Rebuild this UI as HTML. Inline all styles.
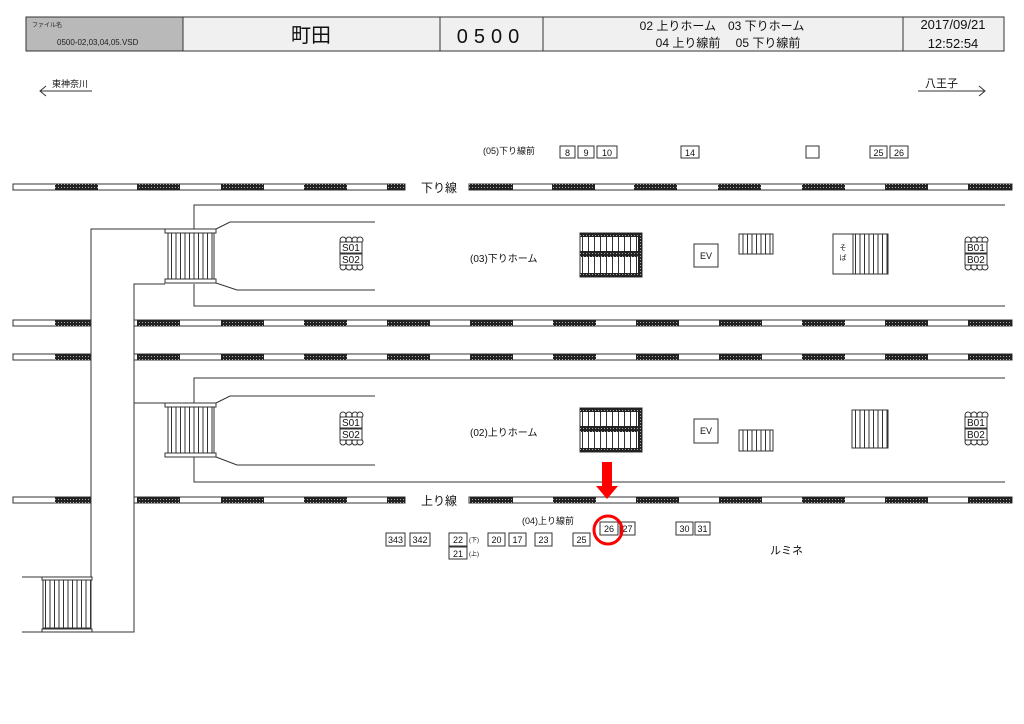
<!DOCTYPE html>
<html><head><meta charset="utf-8"><style>
html,body{margin:0;padding:0;background:#fff;}
svg{display:block;font-family:"Liberation Sans","Noto Sans CJK JP",sans-serif;}
</style></head><body>
<svg width="1024" height="724" viewBox="0 0 1024 724" xmlns="http://www.w3.org/2000/svg">
<defs>
<pattern id="dk" width="3" height="3" patternUnits="userSpaceOnUse"><rect width="3" height="3" fill="#222"/><rect x="1" y="1" width="1" height="1" fill="#aaa"/></pattern>
<pattern id="vl" width="6" height="10" patternUnits="userSpaceOnUse"><rect width="6" height="10" fill="#fff"/><rect x="0" width="1" height="10" fill="#333"/></pattern>
<pattern id="vl4" width="4.5" height="10" patternUnits="userSpaceOnUse"><rect width="4.5" height="10" fill="#fff"/><rect x="0" width="1" height="10" fill="#333"/></pattern>
</defs>

<!-- header -->
<rect x="26" y="17" width="157" height="34" fill="#b9b9b9" stroke="#333"/>
<rect x="183" y="17" width="821" height="34" fill="#f0f0f0" stroke="#333"/>
<line x1="440" y1="17" x2="440" y2="51" stroke="#333"/>
<line x1="543" y1="17" x2="543" y2="51" stroke="#333"/>
<line x1="903" y1="17" x2="903" y2="51" stroke="#333"/>
<text x="32" y="27" font-size="6" fill="#222">ファイル名</text>
<text x="57" y="45" font-size="8" fill="#222">0500-02,03,04,05.VSD</text>
<text x="311" y="42" font-size="20" text-anchor="middle" fill="#111">町田</text>
<text x="491" y="43" font-size="20" text-anchor="middle" letter-spacing="6" fill="#111">0500</text>
<text x="722" y="30" font-size="12" text-anchor="middle" fill="#111">02 上りホーム　03 下りホーム</text>
<text x="728" y="47" font-size="12" text-anchor="middle" fill="#111">04 上り線前　 05 下り線前</text>
<text x="953" y="29" font-size="13" text-anchor="middle" fill="#111">2017/09/21</text>
<text x="953" y="48" font-size="13" text-anchor="middle" fill="#111">12:52:54</text>

<!-- direction arrows -->
<text x="52" y="87" font-size="9" fill="#111">東神奈川</text>
<line x1="40" y1="91" x2="92" y2="91" stroke="#333"/>
<polyline points="46,86 40,91 46,96" fill="none" stroke="#333"/>
<text x="925" y="87" font-size="11" fill="#111">八王子</text>
<line x1="918" y1="91" x2="985" y2="91" stroke="#333"/>
<polyline points="979,86 985,91 979,96" fill="none" stroke="#333"/>

<!-- tracks -->
<g stroke="#333" stroke-width="1">
<rect x="13" y="184" width="392" height="6" fill="#fff"/>
<rect x="469" y="184" width="543" height="6" fill="#fff"/>
<rect x="13" y="320" width="78" height="6" fill="#fff"/>
<rect x="134" y="320" width="878" height="6" fill="#fff"/>
<rect x="13" y="354" width="78" height="6" fill="#fff"/>
<rect x="134" y="354" width="878" height="6" fill="#fff"/>
<rect x="13" y="497" width="78" height="6" fill="#fff"/>
<rect x="134" y="497" width="271" height="6" fill="#fff"/>
<rect x="469" y="497" width="543" height="6" fill="#fff"/>
</g>
<g fill="url(#dk)">
<rect x="55" y="184" width="43" height="6"/><rect x="137" y="184" width="43" height="6"/><rect x="221" y="184" width="43" height="6"/><rect x="304" y="184" width="43" height="6"/><rect x="387" y="184" width="18" height="6"/>
<rect x="469" y="184" width="44" height="6"/><rect x="552" y="184" width="43" height="6"/><rect x="634" y="184" width="43" height="6"/><rect x="718" y="184" width="43" height="6"/><rect x="802" y="184" width="43" height="6"/><rect x="885" y="184" width="43" height="6"/><rect x="968" y="184" width="44" height="6"/>
<g id="trk">
<rect x="55" y="320" width="36" height="6"/><rect x="137" y="320" width="43" height="6"/><rect x="221" y="320" width="43" height="6"/><rect x="304" y="320" width="43" height="6"/><rect x="387" y="320" width="43" height="6"/><rect x="470" y="320" width="43" height="6"/><rect x="553" y="320" width="43" height="6"/><rect x="636" y="320" width="43" height="6"/><rect x="719" y="320" width="43" height="6"/><rect x="802" y="320" width="43" height="6"/><rect x="885" y="320" width="43" height="6"/><rect x="968" y="320" width="44" height="6"/>
</g>
<use href="#trk" y="34"/>
<rect x="55" y="497" width="36" height="6"/><rect x="137" y="497" width="43" height="6"/><rect x="221" y="497" width="43" height="6"/><rect x="304" y="497" width="43" height="6"/><rect x="387" y="497" width="18" height="6"/>
<rect x="470" y="497" width="43" height="6"/><rect x="553" y="497" width="43" height="6"/><rect x="636" y="497" width="43" height="6"/><rect x="719" y="497" width="43" height="6"/><rect x="802" y="497" width="43" height="6"/><rect x="885" y="497" width="43" height="6"/><rect x="968" y="497" width="44" height="6"/>
</g>
<text x="421" y="192" font-size="12" fill="#111">下り線</text>
<text x="421" y="505" font-size="12" fill="#111">上り線</text>

<!-- corridor / platform outlines -->
<g fill="none" stroke="#333" stroke-width="1">
<polyline points="165,229 91,229 91,632"/>
<polyline points="165,284 134,284 134,632 92,632"/>
<line x1="134" y1="403" x2="165" y2="403"/>
<polyline points="194,229 194,205 1005,205"/>
<polyline points="194,284 194,306 1005,306"/>
<polyline points="216,229 230,222 375,222"/>
<polyline points="216,283 237,290 375,290"/>
<polyline points="194,403 194,378 1005,378"/>
<polyline points="194,457 194,482 1005,482"/>
<polyline points="216,403 230,396 375,396"/>
<polyline points="216,457 237,465 375,465"/>
<line x1="22" y1="577" x2="42" y2="577"/>
<line x1="22" y1="632" x2="42" y2="632"/>
</g>
<!-- stairs -->
<g stroke="#333" stroke-width="1">
<rect x="168" y="232" width="46" height="48" fill="url(#vl4)"/>
<rect x="165" y="229" width="51" height="4" fill="#fff"/><rect x="165" y="279" width="51" height="4" fill="#fff"/>
<rect x="168" y="406" width="46" height="48" fill="url(#vl4)"/>
<rect x="165" y="403" width="51" height="4" fill="#fff"/><rect x="165" y="453" width="51" height="4" fill="#fff"/>
<rect x="43" y="580" width="48" height="48" fill="url(#vl4)"/>
<rect x="42" y="577" width="50" height="3" fill="#fff"/><rect x="42" y="629" width="50" height="3" fill="#fff"/>
</g>

<!-- S / B blocks -->
<g transform="translate(0,0)" stroke="#333" fill="#fff">
<circle cx="343" cy="240" r="3"/><circle cx="349" cy="240" r="3"/><circle cx="355" cy="240" r="3"/><circle cx="360" cy="240" r="3"/>
<circle cx="343" cy="267" r="3"/><circle cx="349" cy="267" r="3"/><circle cx="355" cy="267" r="3"/><circle cx="360" cy="267" r="3"/>
<rect x="340" y="242" width="22" height="11"/><rect x="340" y="254" width="22" height="11"/>
</g>
<g transform="translate(0,175)" stroke="#333" fill="#fff">
<circle cx="343" cy="240" r="3"/><circle cx="349" cy="240" r="3"/><circle cx="355" cy="240" r="3"/><circle cx="360" cy="240" r="3"/>
<circle cx="343" cy="267" r="3"/><circle cx="349" cy="267" r="3"/><circle cx="355" cy="267" r="3"/><circle cx="360" cy="267" r="3"/>
<rect x="340" y="242" width="22" height="11"/><rect x="340" y="254" width="22" height="11"/>
</g>
<g transform="translate(625,0)" stroke="#333" fill="#fff">
<circle cx="343" cy="240" r="3"/><circle cx="349" cy="240" r="3"/><circle cx="355" cy="240" r="3"/><circle cx="360" cy="240" r="3"/>
<circle cx="343" cy="267" r="3"/><circle cx="349" cy="267" r="3"/><circle cx="355" cy="267" r="3"/><circle cx="360" cy="267" r="3"/>
<rect x="340" y="242" width="22" height="11"/><rect x="340" y="254" width="22" height="11"/>
</g>
<g transform="translate(625,175)" stroke="#333" fill="#fff">
<circle cx="343" cy="240" r="3"/><circle cx="349" cy="240" r="3"/><circle cx="355" cy="240" r="3"/><circle cx="360" cy="240" r="3"/>
<circle cx="343" cy="267" r="3"/><circle cx="349" cy="267" r="3"/><circle cx="355" cy="267" r="3"/><circle cx="360" cy="267" r="3"/>
<rect x="340" y="242" width="22" height="11"/><rect x="340" y="254" width="22" height="11"/>
</g>
<g font-size="10" fill="#111">
<text x="342" y="251">S01</text><text x="342" y="263">S02</text>
<text x="342" y="426">S01</text><text x="342" y="438">S02</text>
<text x="967" y="251">B01</text><text x="967" y="263">B02</text>
<text x="967" y="426">B01</text><text x="967" y="438">B02</text>
</g>

<text x="470" y="262" font-size="10" fill="#111">(03)下りホーム</text>
<text x="470" y="436" font-size="10" fill="#111">(02)上りホーム</text>

<!-- escalators dark -->
<g id="esc">
<rect x="580" y="233" width="62" height="44" fill="url(#vl)" stroke="#333"/>
<rect x="580" y="233" width="62" height="4" fill="url(#dk)"/>
<rect x="580" y="251" width="62" height="6" fill="url(#dk)"/>
<rect x="580" y="273" width="62" height="4" fill="url(#dk)"/>
<rect x="638" y="233" width="4" height="44" fill="url(#dk)"/>
</g>
<use href="#esc" y="175"/>

<!-- EV -->
<rect x="694" y="244" width="24" height="23" fill="#fff" stroke="#333"/>
<text x="706" y="259" font-size="9" text-anchor="middle" fill="#111">EV</text>
<rect x="694" y="419" width="24" height="24" fill="#fff" stroke="#333"/>
<text x="706" y="434" font-size="9" text-anchor="middle" fill="#111">EV</text>

<!-- small stairs -->
<g stroke="#333">
<rect x="739" y="234" width="34" height="20" fill="url(#vl4)"/>
<rect x="739" y="430" width="34" height="21" fill="url(#vl4)"/>
<rect x="833" y="234" width="20" height="40" fill="#fff"/>
<rect x="853" y="234" width="35" height="40" fill="url(#vl4)"/>
<rect x="852" y="410" width="36" height="38" fill="url(#vl4)"/>
</g>
<text x="843" y="250" font-size="7" text-anchor="middle" fill="#111">そ</text>
<text x="843" y="260" font-size="7" text-anchor="middle" fill="#111">ば</text>

<!-- top row boxes -->
<text x="483" y="154" font-size="9" fill="#111">(05)下り線前</text>
<g stroke="#333" fill="#fff">
<rect x="560" y="146" width="15" height="12"/><rect x="578" y="146" width="16" height="12"/><rect x="597" y="146" width="20" height="12"/>
<rect x="681" y="146" width="18" height="12"/><rect x="806" y="146" width="13" height="12"/>
<rect x="870" y="146" width="17" height="12"/><rect x="890" y="146" width="18" height="12"/>
</g>
<g font-size="9" fill="#111" text-anchor="middle">
<text x="567.5" y="156">8</text><text x="586" y="156">9</text><text x="607" y="156">10</text><text x="690" y="156">14</text><text x="878.5" y="156">25</text><text x="899" y="156">26</text>
</g>

<!-- bottom boxes -->
<text x="522" y="524" font-size="9" fill="#111">(04)上り線前</text>
<g stroke="#333" fill="#fff">
<rect x="600" y="522" width="18" height="13"/><rect x="620" y="522" width="15" height="13"/>
<rect x="676" y="522" width="17" height="13"/><rect x="695" y="522" width="15" height="13"/>
<rect x="386" y="533" width="19" height="13"/><rect x="410" y="533" width="20" height="13"/>
<rect x="449" y="533" width="18" height="13"/><rect x="488" y="533" width="17" height="13"/>
<rect x="509" y="533" width="17" height="13"/><rect x="535" y="533" width="17" height="13"/>
<rect x="573" y="533" width="17" height="13"/><rect x="449" y="547" width="18" height="12"/>
</g>
<g font-size="9" fill="#111" text-anchor="middle">
<text x="609" y="532">26</text><text x="627.5" y="532">27</text><text x="684.5" y="532">30</text><text x="702.5" y="532">31</text>
<text x="395.5" y="543">343</text><text x="420" y="543">342</text><text x="458" y="543">22</text><text x="496.5" y="543">20</text>
<text x="517.5" y="543">17</text><text x="543.5" y="543">23</text><text x="581.5" y="543">25</text><text x="458" y="557">21</text>
</g>
<text x="469" y="542" font-size="6" fill="#111">(下)</text>
<text x="469" y="556" font-size="6" fill="#111">(上)</text>
<text x="770" y="554" font-size="11" fill="#111">ルミネ</text>

<!-- red marker -->
<rect x="602" y="462" width="10" height="25" fill="#f00"/>
<polygon points="596,486 618,486 607,499" fill="#f00"/>
<circle cx="608" cy="530" r="14" fill="none" stroke="#f00" stroke-width="3"/>
</svg>
</body></html>
